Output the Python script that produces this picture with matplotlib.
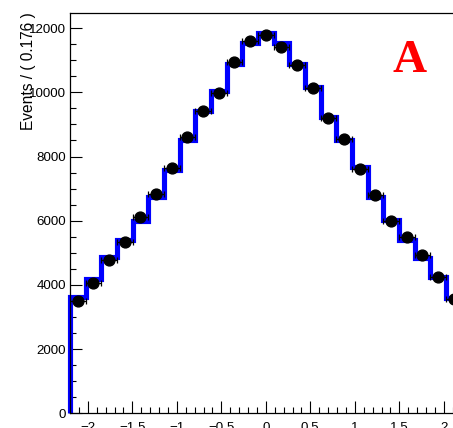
import matplotlib
matplotlib.use("Agg")
import matplotlib.pyplot as plt
from matplotlib.ticker import MultipleLocator, FuncFormatter
import numpy as np

plt.rcParams['font.family'] = ['Liberation Sans', 'DejaVu Sans']

# 25 bins on [-2.2, 2.2]
x_lo, x_hi, n_bins = -2.2, 2.2, 25

# fitted/model histogram (blue) and data points (black)
hist_vals = [3630, 4170, 4860, 5390, 5980, 6750, 7570, 8510, 9430, 10050,
             10890, 11540, 11840, 11540, 10870, 10160, 9240, 8510, 7660,
             6730, 6020, 5400, 4830, 4250, 3580]
data_vals = [3500, 4055, 4770, 5340, 6130, 6820, 7630, 8600, 9420, 9980,
             10940, 11600, 11780, 11410, 10860, 10130, 9200, 8530, 7600,
             6790, 5990, 5490, 4930, 4240, 3550]

edges = np.linspace(x_lo, x_hi, n_bins + 1)
centers = 0.5 * (edges[:-1] + edges[1:])
half_w = 0.5 * (edges[1] - edges[0])

fig = plt.figure(figsize=(4.53, 4.28), dpi=100)
ax = fig.add_axes([70 / 453, 1 - 413.3 / 428, 391.6 / 453, 400.6 / 428])

ax.stairs(hist_vals, edges, baseline=0, color='#0000ff', linewidth=3.7,
          clip_on=False, zorder=2)
ax.errorbar(centers, data_vals, xerr=half_w, fmt='o', color='black',
            markersize=7.8, elinewidth=0.9, capsize=2.5, capthick=0.9,
            zorder=3)

ax.set_xlim(x_lo, x_hi)
ax.set_ylim(0, 12480)

ax.xaxis.set_major_locator(MultipleLocator(0.5))
ax.xaxis.set_minor_locator(MultipleLocator(0.1))
ax.xaxis.set_major_formatter(FuncFormatter(lambda v, p: ('%g' % v).replace('-', '\u2212')))
ax.yaxis.set_major_locator(MultipleLocator(2000))
ax.yaxis.set_minor_locator(MultipleLocator(500))
ax.tick_params(which='both', direction='in', top=False, right=False,
               width=0.8, labelsize=9.6)
ax.tick_params(which='major', length=8.8)
ax.tick_params(which='minor', length=4.4)
ax.tick_params(axis='y', pad=3)
ax.tick_params(axis='x', pad=6)

for s in ax.spines.values():
    s.set_linewidth(0.9)

fig.text(29 / 453, 1 - 12 / 428, 'Events / ( 0.176 )', rotation=90,
         ha='center', va='top', fontsize=11.2)

fig.text(410 / 453, 1 - 61 / 428, 'A', color='#ff0000', fontsize=34,
         fontweight='bold', family='Liberation Serif', ha='center',
         va='center')

fig.savefig('out.png', dpi=100)
